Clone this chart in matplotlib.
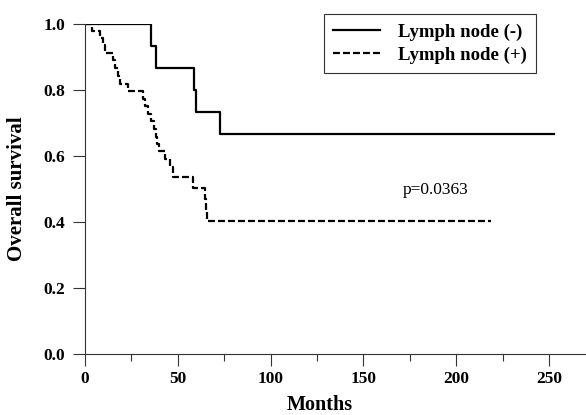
import numpy as np
import matplotlib
matplotlib.use("Agg")
import matplotlib.pyplot as plt
from matplotlib.ticker import MultipleLocator

plt.rcParams['font.family'] = ['Liberation Serif', 'DejaVu Serif']
plt.rcParams['lines.scale_dashes'] = False

# Kaplan-Meier steps (months, survival)
neg_times = [0, 35.6, 38.2, 58.7, 60.0, 72.7]
neg_surv = [1.0, 0.933, 0.867, 0.800, 0.733, 0.667]
neg_end = 253

pos_times = [0, 4.0, 8.0, 9.5, 10.8, 15.0, 16.2, 17.8, 19.0, 23.0,
             31.0, 32.5, 34.0, 35.5, 37.0, 38.0, 39.0, 40.0, 43.0,
             45.8, 47.4, 58.0, 64.5, 65.0, 65.6]
pos_surv = [1.0, 0.978, 0.957, 0.935, 0.913, 0.891, 0.868, 0.841, 0.818, 0.797,
            0.773, 0.750, 0.727, 0.705, 0.682, 0.659, 0.636, 0.614, 0.591,
            0.567, 0.536, 0.503, 0.470, 0.436, 0.403]
pos_end = 219

labels = ['Lymph node (-)', 'Lymph node (+)']
p_text = 'p=0.0363'

fig = plt.figure(figsize=(5.86, 4.15), dpi=100)
ax = fig.add_axes([85 / 586, 61 / 415, 1 - 85 / 586, 330 / 415])

ax.step(neg_times + [neg_end], neg_surv + [neg_surv[-1]], where='post',
        color='black', lw=1.6, label=labels[0])
ax.step(pos_times + [pos_end], pos_surv + [pos_surv[-1]], where='post',
        color='black', lw=1.6, dashes=(5, 2.2), label=labels[1])

ax.set_xlim(0, 270)
ax.set_ylim(0, 1.0)
ax.xaxis.set_major_locator(MultipleLocator(50))
ax.xaxis.set_minor_locator(MultipleLocator(25))
ax.yaxis.set_major_locator(MultipleLocator(0.2))
ax.yaxis.set_major_formatter(matplotlib.ticker.FormatStrFormatter('%.1f'))

for s in ['top', 'right']:
    ax.spines[s].set_visible(False)
for s in ['left', 'bottom']:
    ax.spines[s].set_linewidth(0.8)
    ax.spines[s].set_color('#333333')

ax.tick_params(which='major', length=8.5, width=0.8, color='#333333', labelsize=12.5)
ax.tick_params(which='minor', length=5, width=0.8, color='#333333')
ax.tick_params(axis='x', which='major', pad=4)
ax.tick_params(axis='y', which='major', pad=6)
for lab in ax.get_xticklabels() + ax.get_yticklabels():
    lab.set_fontweight('bold')

ax.set_xlabel('Months', fontsize=14.5, fontweight='bold')
ax.xaxis.set_label_coords((320 - 85) / (586 - 85), -0.125)
ax.set_ylabel('Overall survival', fontsize=15, fontweight='bold')
ax.yaxis.set_label_coords(-0.116, 0.5)

ax.text(171, 0.497, p_text, fontsize=12.5, va='center', ha='left')

leg = ax.legend(loc='upper right', bbox_to_anchor=(536 / 586, 1 - 14 / 415),
                bbox_transform=fig.transFigure, borderaxespad=0,
                fancybox=False, framealpha=1, edgecolor='#333333',
                handlelength=2.5, handletextpad=0.95, labelspacing=0.3,
                borderpad=0.5, prop={'weight': 'bold', 'size': 13.5})
leg.get_frame().set_linewidth(0.8)

fig.savefig('out.png', dpi=100)
